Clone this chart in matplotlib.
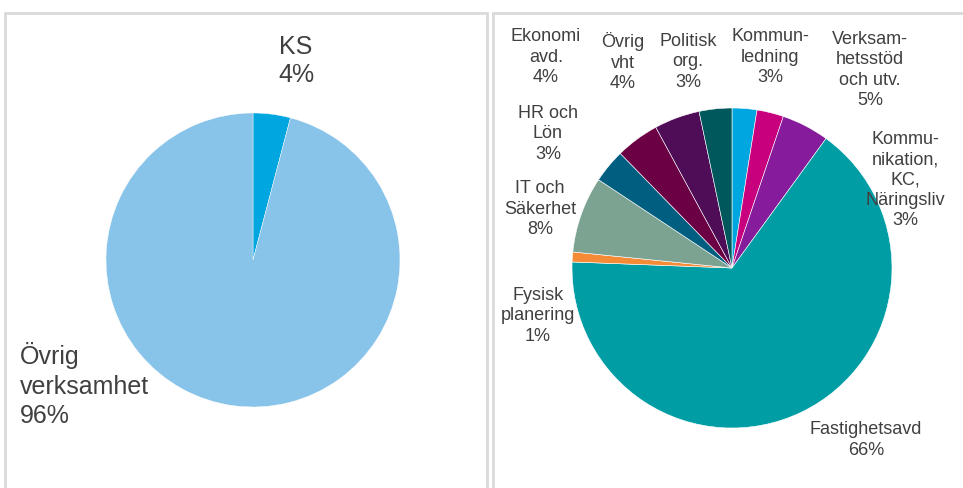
import matplotlib.pyplot as plt
from matplotlib.patches import Rectangle

plt.rcParams['font.family'] = ['Liberation Sans', 'DejaVu Sans']

# left pie
left_labels = ['KS', 'Övrig\nverksamhet']
left_values = [4.1, 95.9]
left_pct = ['4%', '96%']
left_colors = ['#00A6DF', '#88C3EA']

# right pie (clockwise from 12 o'clock)
right_labels = ['Kommun-\nledning', 'Kommu-\nnikation,\nKC,\nNäringsliv',
                'Verksam-\nhetsstöd\noch utv.', 'Fastighetsavd', 'Fysisk\nplanering',
                'IT och\nSäkerhet', 'HR och\nLön', 'Ekonomi\navd.', 'Övrig\nvht',
                'Politisk\norg.']
right_values = [2.5, 2.7, 4.8, 65.6, 1.0, 7.7, 3.4, 4.4, 4.6, 3.3]
right_pct = ['3%', '3%', '5%', '66%', '1%', '8%', '3%', '4%', '4%', '3%']
right_colors = ['#00A6DF', '#C8007E', '#861C9B', '#009DA5', '#F58B36', '#7CA391',
                '#005F80', '#6B0044', '#4F0D58', '#00585C']

W, H = 963, 488
fig = plt.figure(figsize=(W / 100, H / 100), dpi=100)
ax = fig.add_axes([0, 0, 1, 1])

def py(y):
    # pixel row (from top) -> data y
    return H - y

ax.pie(left_values, colors=left_colors, startangle=90, counterclock=False,
       center=(253, py(260)), radius=147, frame=True,
       wedgeprops=dict(edgecolor='white', linewidth=0.3))
ax.pie(right_values, colors=right_colors, startangle=90, counterclock=False,
       center=(732, py(268)), radius=160, frame=True,
       wedgeprops=dict(edgecolor='white', linewidth=0.4))
ax.set_xlim(0, W)
ax.set_ylim(0, H)
ax.set_aspect('auto')
ax.axis('off')

# panel frames
ax.add_patch(Rectangle((5, -10), 482, py(13) + 10, fill=False, ec='#D9D9D9', lw=2))
ax.add_patch(Rectangle((493, -10), 500, py(13) + 10, fill=False, ec='#D9D9D9', lw=2))

tc = '#404040'
# left labels
ax.text(296, py(61), left_labels[0] + '\n' + left_pct[0], ha='center', va='center',
        fontsize=18, color=tc, linespacing=1.2)
ax.text(20, py(385), left_labels[1] + '\n' + left_pct[1], ha='left', va='center',
        fontsize=18, color=tc, linespacing=1.3)

# right labels
right_pos = [(770, 57), (905, 180), (870, 70), (866, 440), (538, 316),
             (540, 209), (548, 134), (546, 57), (623, 62), (688, 62)]
for lab, pct, (x, y) in zip(right_labels, right_pct, right_pos):
    ax.text(x, py(y), lab + '\n' + pct, ha='center', va='center',
            fontsize=13, color=tc, linespacing=1.25)

fig.savefig('out.png', dpi=100)
